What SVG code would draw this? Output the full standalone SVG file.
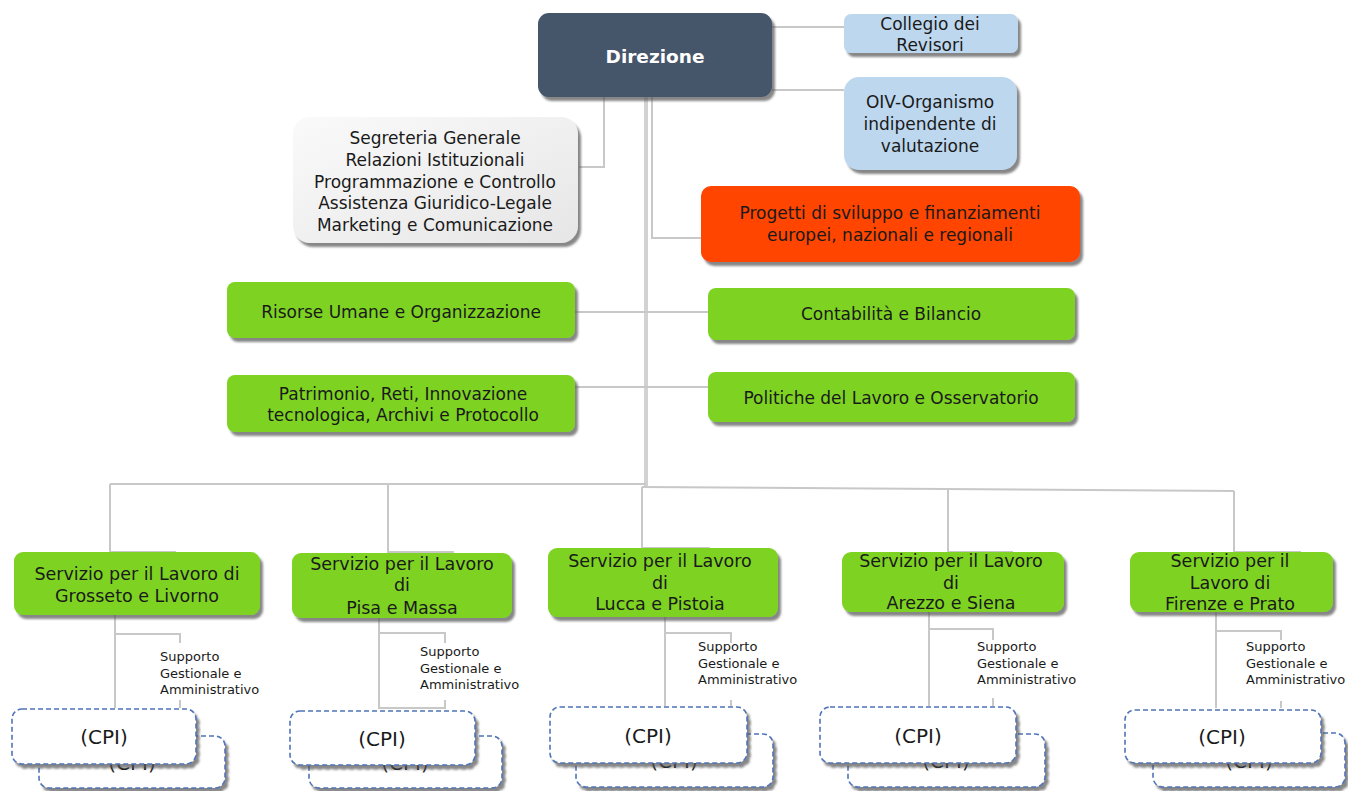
<svg xmlns="http://www.w3.org/2000/svg" width="1348" height="791" viewBox="0 0 1348 791">
<style>
  text { font-family: "DejaVu Sans", Verdana, "Liberation Sans", sans-serif; fill: #1a1a1a; text-anchor: middle; }
  .t17 { font-size: 17px; }
  .t18 { font-size: 17.5px; }
  .sm { font-size: 13px; text-anchor: start; }
  .dir { font-size: 18.5px; font-weight: bold; fill: #ffffff; }
  .cpi { font-size: 20px; }
  .con { fill: none; stroke: #c8c8c8; stroke-width: 2; }
  .main { fill: none; stroke: #d2d2d2; stroke-width: 4; }
  .green { fill: #7ed321; filter: url(#sh); }
  .blue { fill: #bdd7ee; filter: url(#sh); }
  .cpibox { fill: #ffffff; stroke: #4f74b8; stroke-width: 1.6; stroke-dasharray: 5 3; filter: url(#sh); }
</style>
<defs>
  <filter id="sh" x="-10%" y="-10%" width="125%" height="135%">
    <feDropShadow dx="3" dy="4" stdDeviation="1" flood-color="#555555" flood-opacity="0.7"/>
  </filter>
  <linearGradient id="gg" x1="0" y1="0" x2="1" y2="1">
    <stop offset="0" stop-color="#fafafa"/>
    <stop offset="1" stop-color="#e6e6e6"/>
  </linearGradient>
</defs>
<rect width="1348" height="791" fill="#ffffff"/>

<g id="connectors">
  <path class="con" d="M772 27 H844"/>
  <path class="con" d="M772 90 H844"/>
  <path class="con" d="M604 97 V167 H579"/>
  <path class="main" d="M646 97 V486"/>
  <path class="con" d="M652 97 V238 H701"/>
  <path class="con" d="M575 312 H708"/>
  <path class="con" d="M575 387 H708"/>
  <path class="con" d="M110 484 H646"/>
  <path class="con" d="M642 487 L1234 491"/>
  <path class="con" d="M110 484 V552 H175 V560"/>
  <path class="con" d="M388 484 V552 H453 V560"/>
  <path class="con" d="M642 487 V548 H709 V556"/>
  <path class="con" d="M948 489 V552 H1012 V560"/>
  <path class="con" d="M1234 491 V552 H1300 V558"/>
  <path class="con" d="M115 615 V708 M115 634 H180 V643 M180 700 V708"/>
  <path class="con" d="M379 618 V708 H445 V700 M379 633 H445 V643"/>
  <path class="con" d="M665 617 V706 M665 633 H731 V643 M731 700 V706"/>
  <path class="con" d="M929 612 V706 M929 629 H993 V640 M993 698 V706"/>
  <path class="con" d="M1216 612 V708 M1216 631 H1281 V640 M1281 701 V708"/>
</g>

<g id="direzione">
  <rect x="538" y="13" width="234" height="84" rx="11" fill="#44546a" filter="url(#sh)"/>
  <text class="dir" x="655" y="63">Direzione</text>
</g>
<g id="collegio">
  <rect class="blue" x="844" y="14" width="174" height="39" rx="7"/>
  <text class="t17" x="930" y="30">Collegio dei</text>
  <text class="t17" x="930" y="51">Revisori</text>
</g>
<g id="oiv">
  <rect class="blue" x="844" y="77" width="173" height="93" rx="15"/>
  <text class="t17" x="930" y="108">OIV-Organismo</text>
  <text class="t17" x="930" y="130">indipendente di</text>
  <text class="t17" x="930" y="152">valutazione</text>
</g>
<g id="segreteria">
  <rect x="293" y="117" width="285" height="126" rx="17" fill="url(#gg)" filter="url(#sh)"/>
  <text class="t17" x="435" y="144">Segreteria Generale</text>
  <text class="t17" x="435" y="166">Relazioni Istituzionali</text>
  <text class="t17" x="435" y="188">Programmazione e Controllo</text>
  <text class="t17" x="435" y="209">Assistenza Giuridico-Legale</text>
  <text class="t17" x="435" y="231">Marketing e Comunicazione</text>
</g>
<g id="progetti">
  <rect x="701" y="186" width="379" height="76" rx="10" fill="#ff4500" filter="url(#sh)"/>
  <text class="t17" x="890" y="219">Progetti di sviluppo e finanziamenti</text>
  <text class="t17" x="890" y="241">europei, nazionali e regionali</text>
</g>
<g id="risorse">
  <rect class="green" x="227" y="282" width="348" height="56" rx="8"/>
  <text class="t17" x="401" y="318">Risorse Umane e Organizzazione</text>
</g>
<g id="contabilita">
  <rect class="green" x="708" y="288" width="367" height="52" rx="8"/>
  <text class="t17" x="891" y="320">Contabilità e Bilancio</text>
</g>
<g id="patrimonio">
  <rect class="green" x="227" y="375" width="348" height="57" rx="8"/>
  <text class="t17" x="403" y="400">Patrimonio, Reti, Innovazione</text>
  <text class="t17" x="403" y="421">tecnologica, Archivi e Protocollo</text>
</g>
<g id="politiche">
  <rect class="green" x="708" y="372" width="367" height="50" rx="8"/>
  <text class="t17" x="891" y="404">Politiche del Lavoro e Osservatorio</text>
</g>

<g id="grosseto">
  <rect class="green" x="14" y="552" width="246" height="63" rx="9"/>
  <text class="t18" x="137" y="580">Servizio per il Lavoro di</text>
  <text class="t18" x="137" y="602">Grosseto e Livorno</text>
</g>
<g id="pisa">
  <rect class="green" x="292" y="553" width="220" height="65" rx="9"/>
  <text class="t18" x="402" y="570">Servizio per il Lavoro</text>
  <text class="t18" x="402" y="591">di</text>
  <text class="t18" x="402" y="614">Pisa e Massa</text>
</g>
<g id="lucca">
  <rect class="green" x="548" y="548" width="230" height="69" rx="9"/>
  <text class="t18" x="660" y="567">Servizio per il Lavoro</text>
  <text class="t18" x="660" y="589">di</text>
  <text class="t18" x="660" y="610">Lucca e Pistoia</text>
</g>
<g id="arezzo">
  <rect class="green" x="842" y="552" width="222" height="60" rx="9"/>
  <text class="t18" x="951" y="567">Servizio per il Lavoro</text>
  <text class="t18" x="951" y="589">di</text>
  <text class="t18" x="951" y="609">Arezzo e Siena</text>
</g>
<g id="firenze">
  <rect class="green" x="1130" y="552" width="203" height="60" rx="9"/>
  <text class="t18" x="1230" y="567">Servizio per il</text>
  <text class="t18" x="1230" y="589">Lavoro di</text>
  <text class="t18" x="1230" y="610">Firenze e Prato</text>
</g>

<g id="supporto-grosseto">
  <text class="sm" x="160" y="661">Supporto</text>
  <text class="sm" x="160" y="678">Gestionale e</text>
  <text class="sm" x="160" y="694">Amministrativo</text>
</g>
<g id="supporto-pisa">
  <text class="sm" x="420" y="656">Supporto</text>
  <text class="sm" x="420" y="673">Gestionale e</text>
  <text class="sm" x="420" y="689">Amministrativo</text>
</g>
<g id="supporto-lucca">
  <text class="sm" x="698" y="651">Supporto</text>
  <text class="sm" x="698" y="668">Gestionale e</text>
  <text class="sm" x="698" y="684">Amministrativo</text>
</g>
<g id="supporto-arezzo">
  <text class="sm" x="977" y="651">Supporto</text>
  <text class="sm" x="977" y="668">Gestionale e</text>
  <text class="sm" x="977" y="684">Amministrativo</text>
</g>
<g id="supporto-firenze">
  <text class="sm" x="1246" y="651">Supporto</text>
  <text class="sm" x="1246" y="668">Gestionale e</text>
  <text class="sm" x="1246" y="684">Amministrativo</text>
</g>

<g id="cpi-grosseto">
  <rect class="cpibox" x="39" y="736" width="186" height="52" rx="10"/>
  <text class="cpi" x="132" y="770">(CPI)</text>
  <rect class="cpibox" x="12" y="709" width="184" height="55" rx="10"/>
  <text class="cpi" x="104" y="744">(CPI)</text>
</g>
<g id="cpi-pisa">
  <rect class="cpibox" x="309" y="736" width="193" height="52" rx="10"/>
  <text class="cpi" x="405" y="770">(CPI)</text>
  <rect class="cpibox" x="290" y="711" width="185" height="54" rx="10"/>
  <text class="cpi" x="382" y="746">(CPI)</text>
</g>
<g id="cpi-lucca">
  <rect class="cpibox" x="576" y="734" width="197" height="53" rx="10"/>
  <text class="cpi" x="674" y="768">(CPI)</text>
  <rect class="cpibox" x="550" y="707" width="197" height="56" rx="10"/>
  <text class="cpi" x="648" y="743">(CPI)</text>
</g>
<g id="cpi-arezzo">
  <rect class="cpibox" x="848" y="734" width="197" height="53" rx="10"/>
  <text class="cpi" x="946" y="768">(CPI)</text>
  <rect class="cpibox" x="820" y="707" width="196" height="56" rx="10"/>
  <text class="cpi" x="918" y="743">(CPI)</text>
</g>
<g id="cpi-firenze">
  <rect class="cpibox" x="1153" y="733" width="192" height="54" rx="10"/>
  <text class="cpi" x="1249" y="768">(CPI)</text>
  <rect class="cpibox" x="1125" y="710" width="196" height="53" rx="10"/>
  <text class="cpi" x="1222" y="744">(CPI)</text>
</g>
</svg>
